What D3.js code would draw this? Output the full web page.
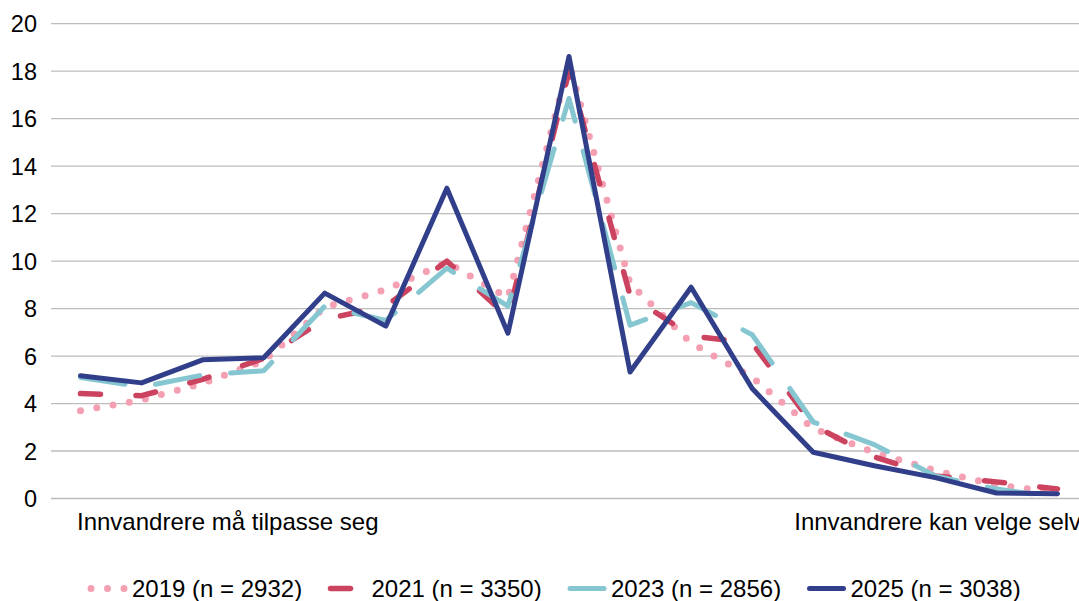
<!DOCTYPE html>
<html>
<head>
<meta charset="utf-8">
<script src="https://cdn.jsdelivr.net/npm/d3@7"></script>
<style>
  html, body { margin: 0; padding: 0; background: #fff; }
  svg text { font-family: "Liberation Sans", Arial, sans-serif; fill: #000; }
</style>
</head>
<body>
<svg id="chart" width="1079" height="601"></svg>
<script>
// ---- data ----
const categories = ["1","2","3","4","5","6","7","8","9","10","11","12","13","14","15","16","17"];
const yTicks = [0, 2, 4, 6, 8, 10, 12, 14, 16, 18, 20];
const axisLabels = ["Innvandrere må tilpasse seg", "Innvandrere kan velge selv"];
const seriesNames = ["2019 (n = 2932)", "2021 (n = 3350)", "2023 (n = 2856)", "2025 (n = 3038)"];
const values2019 = [3.7, 4.15, 4.85, 5.8, 8.05, 8.8, 9.95, 8.45, 18.35, 9.05, 6.55, 5.1, 2.95, 1.94, 1.18, 0.56, 0.27];
const values2021 = [4.42, 4.33, 5.02, 5.9, 7.55, 8.1, 10.0, 7.65, 18.0, 8.55, 6.85, 6.55, 3.08, 1.75, 0.95, 0.7, 0.4];
const values2023 = [5.1, 4.7, 5.2, 5.38, 8.1, 7.5, 9.7, 8.1, 16.85, 7.3, 8.25, 6.9, 3.22, 2.27, 0.95, 0.4, 0.05];
const values2025 = [5.17, 4.87, 5.84, 5.93, 8.65, 7.26, 13.07, 6.96, 18.62, 5.33, 8.9, 4.63, 1.95, 1.38, 0.88, 0.23, 0.2];

// ---- styles ----
const styles = [
  { color: "#F4A0B2", width: 7,   dash: "0 16.5", cap: "round" },
  { color: "#CC4360", width: 5.5, dash: "20 35.5", cap: "round" },
  { color: "#86C6D1", width: 5,   dash: "45 31", cap: "round" },
  { color: "#313F8B", width: 5,   dash: null, cap: "round" }
];
const allValues = [values2019, values2021, values2023, values2025];

const svg = d3.select("#chart");
const W = 1079;
const fontSize = 24;

const x = d3.scalePoint().domain(categories).range([80.5, 1057.5]);
const y = d3.scaleLinear().domain([0, 20]).range([498.5, 23.7]);

// gridlines
svg.append("g").selectAll("line").data(yTicks).join("line")
  .attr("x1", 51).attr("x2", W)
  .attr("y1", d => y(d)).attr("y2", d => y(d))
  .attr("stroke", "#BDBDBD").attr("stroke-width", 1.3);

// y axis labels via d3 axis
const yAxis = d3.axisLeft(y).tickValues(yTicks).tickSize(0).tickPadding(0);
const gy = svg.append("g").attr("transform", "translate(37,0)").call(yAxis);
gy.select(".domain").remove();
gy.selectAll("text")
  .style("font-family", "'Liberation Sans', Arial, sans-serif")
  .style("font-size", "23.5px")
  .attr("fill", "#000")
  .attr("dy", "0.35em");

// x labels
svg.append("text")
  .attr("x", x(categories[0]) - 3.5).attr("y", 530)
  .attr("font-size", fontSize)
  .text(axisLabels[0]);
svg.append("text")
  .attr("x", x(categories[12]) - 19).attr("y", 530)
  .attr("font-size", fontSize)
  .text(axisLabels[1]);

// lines
const line = d3.line().x((d, i) => x(categories[i])).y(d => y(d));
allValues.forEach((vals, k) => {
  const s = styles[k];
  svg.append("path")
    .datum(vals)
    .attr("d", line)
    .attr("fill", "none")
    .attr("stroke", s.color)
    .attr("stroke-width", s.width)
    .attr("stroke-linecap", s.cap)
    .attr("stroke-linejoin", "round")
    .attr("stroke-dasharray", s.dash);
});

// legend
const legendY = 588.5;
const leg = svg.append("g");
seriesNames.forEach((name, k) => {
  const s = styles[k];
  const x0 = 91 + k * 239.5;
  leg.append("line")
    .attr("x1", x0).attr("x2", x0 + 34)
    .attr("y1", legendY).attr("y2", legendY)
    .attr("stroke", s.color)
    .attr("stroke-width", s.width)
    .attr("stroke-linecap", s.cap)
    .attr("stroke-dasharray", s.dash);
  leg.append("text")
    .attr("x", x0 + 41).attr("y", legendY + 8.5)
    .attr("font-size", fontSize)
    .text(name);
});
</script>
</body>
</html>
